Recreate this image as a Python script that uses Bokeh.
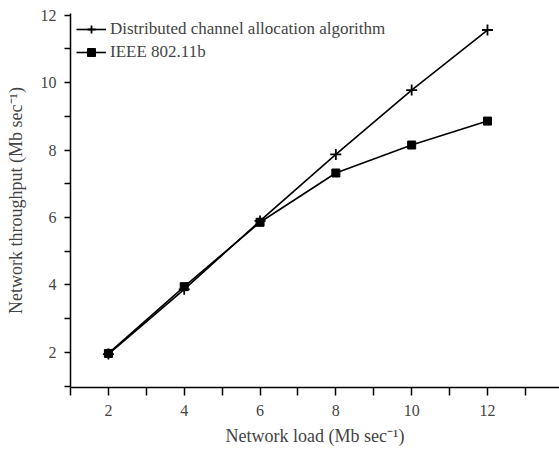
from bokeh.plotting import figure
from bokeh.models import FixedTicker, Legend, LegendItem
from bokeh.embed import file_html
from bokeh.resources import INLINE

load = [2, 4, 6, 8, 10, 12]
distributed = [1.95, 3.87, 5.9, 7.87, 9.78, 11.56]
ieee = [1.97, 3.95, 5.86, 7.32, 8.15, 8.86]
x_ticks = [2, 4, 6, 8, 10, 12]
x_minor = [1, 3, 5, 7, 9, 11, 13]
y_ticks = [2, 4, 6, 8, 10, 12]
y_minor = [1, 3, 5, 7, 9, 11]

FONT = "Liberation Serif"

p = figure(width=559, height=452, output_backend="svg", toolbar_location=None,
           x_range=(1, 13.9), y_range=(0.96, 12.05),
           min_border_left=70, min_border_top=13, min_border_bottom=65, min_border_right=0)
p.outline_line_color = None
p.grid.visible = False
p.background_fill_color = "white"

r1 = p.line(load, distributed, line_color="black", line_width=1.6)
m1 = p.scatter(load, distributed, marker="cross", size=11, line_color="black", line_width=1.8)
r2 = p.line(load, ieee, line_color="black", line_width=1.6)
m2 = p.scatter(load, ieee, marker="square", size=8, fill_color="black", line_color="black")

for ax in (p.xaxis[0], p.yaxis[0]):
    ax.axis_line_width = 1.5
    ax.major_tick_line_width = 1.5
    ax.minor_tick_line_width = 1.5
    ax.major_tick_in = 0
    ax.minor_tick_in = 0
    ax.major_label_text_font = FONT
    ax.major_label_text_font_size = "16px"
    ax.axis_label_text_font = FONT
    ax.axis_label_text_font_size = "18px"
    ax.axis_label_text_font_style = "normal"

p.xaxis.ticker = FixedTicker(ticks=x_ticks, minor_ticks=x_minor)
p.xaxis.major_tick_out = 8
p.xaxis.minor_tick_out = 8
p.xaxis.major_label_standoff = 9
p.xaxis.axis_label = "Network load (Mb sec\u207b\u00b9)"
p.xaxis.axis_label_standoff = 7

p.yaxis.ticker = FixedTicker(ticks=y_ticks, minor_ticks=y_minor)
p.yaxis.major_tick_out = 6
p.yaxis.minor_tick_out = 6
p.yaxis.major_label_standoff = 8
p.yaxis.axis_label = "Network throughput (Mb sec\u207b\u00b9)"
p.yaxis.axis_label_standoff = 12

legend = Legend(items=[
    LegendItem(label="Distributed channel allocation algorithm", renderers=[r1, m1]),
    LegendItem(label="IEEE 802.11b", renderers=[r2, m2]),
], location="top_left")
legend.label_text_font = FONT
legend.label_text_font_size = "17px"
legend.border_line_color = None
legend.background_fill_alpha = 0
legend.glyph_width = 30
legend.glyph_height = 20
legend.label_height = 20
legend.spacing = 3
legend.padding = 0
legend.margin = 6
legend.label_standoff = 4
p.add_layout(legend)

open("out.html", "w").write(file_html(p, INLINE))
